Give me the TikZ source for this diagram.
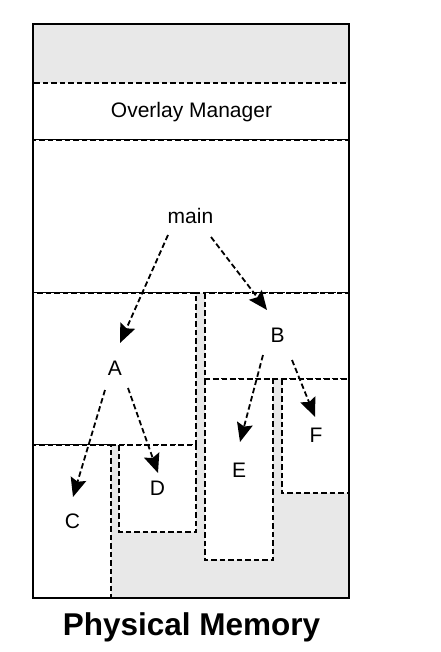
\documentclass[tikz,border=0pt]{standalone}
\usepackage{fontspec}
\setmainfont{Liberation Sans}
\usetikzlibrary{arrows.meta}
\definecolor{freegray}{RGB}{232,232,232}
\tikzset{
	segbox/.style={draw,fill=white,line width=1.8pt,dash pattern=on 5.5pt off 3pt},
	call/.style={line width=1.8pt,dash pattern=on 5.5pt off 3pt,-{Stealth[length=19pt,width=16pt,inset=3pt]}},
	proc/.style={anchor=base,inner sep=0pt,font=\fontsize{21}{25}\selectfont},
	memtitle/.style={anchor=base,inner sep=0pt,font=\fontsize{31.5}{36}\selectfont\bfseries}
}
\begin{document}
\begin{tikzpicture}[x=1pt,y=-1pt]
		\useasboundingbox (0,0) rectangle (440,652);
		%Memoire
		\fill[freegray] (33,24) rectangle (349,598);

		% Segments
		\draw[segbox] (33,83) rectangle (349,140);
		\draw[segbox] (33,140) rectangle (349,293);
		\draw[segbox] (33,293) rectangle (196,445);
		\draw[segbox] (205,293) rectangle (349,379);
		\draw[segbox] (33,445) rectangle (111,598);
		\draw[segbox] (119,445) rectangle (196,532);
		\draw[segbox] (205,379) rectangle (273,560);
		\draw[segbox] (282,379) rectangle (349,493);

		\draw[line width=2.6pt] (33,24) rectangle (349,598);

		% Noms
		\node[proc] (ovl) at (191.5,118) {Overlay Manager};
		\node[proc] (main) at (190.5,223) {main};
		\node[proc] (A) at (115,375) {A};
		\node[proc] (B) at (277.5,342) {B};
		\node[proc] (C) at (72.5,528) {C};
		\node[proc] (D) at (157.5,495) {D};
		\node[proc] (E) at (239,477) {E};
		\node[proc] (F) at (316,442) {F};

		% Appels
		\draw[call] ([shift={(-22.5,12)}]main.base) -- ([shift={(5,-32)}]A.base);
		\draw[call] ([shift={(20.5,14)}]main.base) -- ([shift={(-10.5,-32)}]B.base);
		\draw[call] ([shift={(-10,15)}]A.base) -- ([shift={(0.5,-31)}]C.base);
		\draw[call] ([shift={(13,13)}]A.base) -- ([shift={(0.5,-22)}]D.base);
		\draw[call] ([shift={(-14.5,13)}]B.base) -- ([shift={(1,-35)}]E.base);
		\draw[call] ([shift={(14.5,18)}]B.base) -- ([shift={(-1,-25)}]F.base);

		\node[memtitle] (titre) at (191.5,635) {Physical Memory};
\end{tikzpicture}
\end{document}
